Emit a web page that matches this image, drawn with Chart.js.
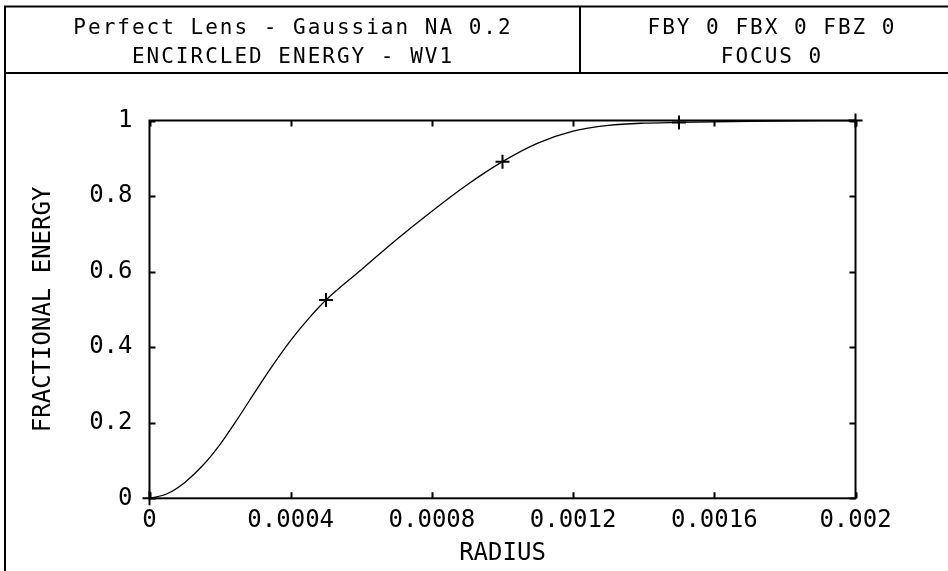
<!DOCTYPE html>
<html>
<head>
<meta charset="utf-8">
<script src="https://cdn.jsdelivr.net/npm/chart.js@4/dist/chart.umd.min.js"></script>
<style>
  html, body { margin: 0; padding: 0; background: #fff; }
  #wrap { width: 948px; height: 571px; position: relative; }
</style>
</head>
<body>
<div id="wrap"><canvas id="c" width="948" height="571"></canvas></div>
<script>
// ---- data ----
const radius = [0, 0.00005, 0.0001, 0.00015, 0.0002, 0.00025, 0.0003, 0.00035, 0.0004, 0.00045, 0.0005, 0.0006, 0.0007, 0.0008, 0.0009, 0.001, 0.0011, 0.0012, 0.0013, 0.0014, 0.0015, 0.0017, 0.002];
const energy = [0, 0.012, 0.042, 0.086, 0.143, 0.211, 0.283, 0.353, 0.418, 0.475, 0.525, 0.605, 0.685, 0.760, 0.830, 0.891, 0.940, 0.972, 0.987, 0.993, 0.995, 0.998, 1.0];
const markerRadius = [0, 0.0005, 0.001, 0.0015, 0.002];
const markerEnergy = [0, 0.525, 0.891, 0.995, 1.0];
const xTickValues = [0, 0.0004, 0.0008, 0.0012, 0.0016, 0.002];
const xTickLabels = ["0", "0.0004", "0.0008", "0.0012", "0.0016", "0.002"];
const yTickValues = [0, 0.2, 0.4, 0.6, 0.8, 1];
const yTickLabels = ["0", "0.2", "0.4", "0.6", "0.8", "1"];
const headerLeft = ["Perfect Lens - Gaussian NA 0.2", "ENCIRCLED ENERGY - WV1"];
const headerRight = ["FBY 0 FBX 0 FBZ 0", "FOCUS 0"];
const xTitle = "RADIUS";
const yTitle = "FRACTIONAL ENERGY";

const FONT = "'DejaVu Sans Mono', monospace";

const frame = {
  id: 'frame',
  beforeDatasetsDraw(chart) {
    const ctx = chart.ctx;
    const a = chart.chartArea;
    const xs = chart.scales.x, ys = chart.scales.y;
    ctx.save();
    ctx.strokeStyle = '#000';
    // header box
    ctx.lineWidth = 2;
    ctx.beginPath();
    ctx.moveTo(5, 571); ctx.lineTo(5, 6.5); ctx.lineTo(948, 6.5);
    ctx.moveTo(4, 73); ctx.lineTo(948, 73);
    ctx.moveTo(580, 6.5); ctx.lineTo(580, 73);
    ctx.stroke();
    ctx.fillStyle = '#000';
    ctx.font = "21px " + FONT;
    ctx.letterSpacing = '2px';
    ctx.textAlign = 'center';
    ctx.textBaseline = 'alphabetic';
    ctx.fillText(headerLeft[0], 293, 34);
    ctx.fillText(headerLeft[1], 293, 63);
    ctx.fillText(headerRight[0], 772, 34);
    ctx.fillText(headerRight[1], 772, 63);
    ctx.letterSpacing = '0px';
    // plot frame
    ctx.lineWidth = 2;
    ctx.strokeRect(a.left, a.top, a.right - a.left, a.bottom - a.top);
    // inward ticks
    const tl = 6;
    ctx.beginPath();
    xTickValues.forEach(v => {
      const px = Math.round(xs.getPixelForValue(v)) + 0.5;
      ctx.moveTo(px, a.bottom); ctx.lineTo(px, a.bottom - tl);
      ctx.moveTo(px, a.top); ctx.lineTo(px, a.top + tl);
    });
    yTickValues.forEach(v => {
      const py = Math.round(ys.getPixelForValue(v)) + 0.5;
      ctx.moveTo(a.left, py); ctx.lineTo(a.left + tl, py);
      ctx.moveTo(a.right, py); ctx.lineTo(a.right - tl, py);
    });
    ctx.stroke();
    ctx.restore();
  }
};

new Chart(document.getElementById('c'), {
  type: 'scatter',
  data: {
    datasets: [
      {
        data: radius.map((r, i) => ({x: r, y: energy[i]})),
        showLine: true,
        borderColor: '#000',
        borderWidth: 1.3,
        pointRadius: 0,
        cubicInterpolationMode: 'monotone',
        fill: false
      },
      {
        data: markerRadius.map((r, i) => ({x: r, y: markerEnergy[i]})),
        showLine: false,
        clip: false,
        pointStyle: 'cross',
        pointRadius: 7,
        borderColor: '#000',
        backgroundColor: '#000',
        pointBorderWidth: 2,
        borderWidth: 2
      }
    ]
  },
  options: {
    responsive: false,
    animation: false,
    events: [],
    layout: { padding: { top: 120.5, left: 0, right: 92.5, bottom: 0 } },
    plugins: { legend: { display: false }, tooltip: { enabled: false } },
    scales: {
      x: {
        type: 'linear', min: 0, max: 0.002,
        afterBuildTicks: s => { s.ticks = xTickValues.map(v => ({value: v})); },
        afterFit: s => { s.height = 72.7; },
        grid: { display: false, drawTicks: false },
        border: { display: false },
        ticks: {
          color: '#000', padding: 8, maxRotation: 0, autoSkip: false,
          font: { family: FONT, size: 24 },
          callback: (v, i) => xTickLabels[i]
        },
        title: { display: true, text: xTitle, color: '#000', font: { family: FONT, size: 24 }, padding: { top: 0, bottom: 3 } }
      },
      y: {
        type: 'linear', min: 0, max: 1,
        afterBuildTicks: s => { s.ticks = yTickValues.map(v => ({value: v})); },
        afterFit: s => { s.width = 149.5; },
        grid: { display: false, drawTicks: false },
        border: { display: false },
        ticks: {
          color: '#000', padding: 17, autoSkip: false,
          font: { family: FONT, size: 24 },
          callback: (v, i) => yTickLabels[i]
        },
        title: { display: true, text: yTitle, color: '#000', font: { family: FONT, size: 24 }, padding: { top: 29, bottom: 0 } }
      }
    }
  },
  plugins: [frame]
});
</script>
</body>
</html>
